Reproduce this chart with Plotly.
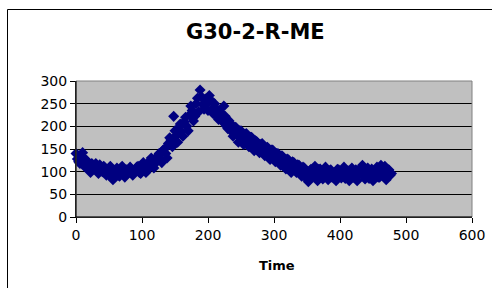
import plotly.graph_objects as go

title_text = "G30-2-R-ME"
x_title = "Time"

time_a = list(range(0, 480, 4))
values_a = [140, 122, 135, 115, 125, 108, 118, 112, 104, 115,
            100, 108, 95, 112, 82, 100, 92, 108, 95, 104,
            98, 106, 100, 110, 98, 112, 105, 118, 110, 125,
            118, 135, 128, 148, 140, 162, 170, 222, 180, 198,
            188, 210, 200, 225, 235, 222, 262, 280, 248, 260,
            235, 258, 228, 240, 215, 228, 245, 200, 212, 188,
            198, 182, 190, 175, 182, 170, 176, 160, 168, 155,
            160, 148, 152, 140, 148, 135, 140, 128, 135, 120,
            128, 112, 122, 108, 115, 100, 110, 92, 78, 105,
            98, 88, 105, 95, 100, 90, 102, 88, 98, 105,
            92, 100, 85, 102, 95, 88, 104, 92, 108, 90,
            100, 85, 106, 95, 110, 88, 102, 112, 95, 92]

time_b = list(range(2, 480, 4))
values_b = [128, 118, 142, 110, 120, 98, 108, 118, 96, 110,
            112, 92, 105, 88, 102, 108, 90, 112, 88, 96,
            110, 92, 104, 112, 96, 120, 98, 112, 130, 108,
            126, 140, 120, 150, 130, 175, 155, 190, 165, 205,
            178, 220, 190, 245, 212, 250, 232, 265, 238, 250,
            268, 238, 250, 222, 232, 210, 222, 195, 205, 178,
            198, 165, 190, 160, 184, 155, 176, 146, 166, 142,
            162, 135, 154, 127, 148, 122, 140, 114, 132, 106,
            126, 98, 120, 98, 114, 90, 108, 84, 102, 90,
            112, 80, 106, 84, 110, 82, 104, 92, 80, 104,
            86, 110, 90, 80, 108, 94, 80, 104, 114, 84,
            108, 92, 80, 104, 88, 114, 90, 82, 104, 96]

x_ticks = [0, 100, 200, 300, 400, 500, 600]
y_ticks = [0, 50, 100, 150, 200, 250, 300]

W, H = 492, 288
L, R, T, B = 76, 20, 81, 71
pw, ph = W - L - R, H - T - B

def px_x(p):
    return (p - L) / pw

def px_y(p):
    return (H - B - p) / ph

time = time_a + time_b
values = values_a + values_b

fig = go.Figure()
fig.add_trace(go.Scatter(
    x=time, y=values, mode="markers",
    marker=dict(symbol="diamond", size=8.5, color="#000080", line=dict(width=0)),
    showlegend=False, cliponaxis=False, hoverinfo="skip",
))

font = dict(family="Verdana, DejaVu Sans, sans-serif", color="black")

fig.update_layout(
    width=W, height=H,
    margin=dict(l=L, r=R, t=T, b=B, autoexpand=False),
    paper_bgcolor="white",
    plot_bgcolor="#C0C0C0",
    font=dict(size=14, **font),
    title=dict(text="<b>" + title_text + "</b>", x=186 / W, xanchor="left",
               y=1 - 32 / H, yanchor="middle", automargin=False,
               font=dict(size=21, **font)),
    xaxis=dict(range=[0, 600], tickvals=x_ticks, ticktext=[str(v) for v in x_ticks],
               showgrid=False, zeroline=False, showline=True, linecolor="black",
               linewidth=1, ticks="outside", ticklen=5, tickcolor="black",
               automargin=False, tickfont=dict(size=14, **font)),
    yaxis=dict(range=[0, 300], tickvals=y_ticks, ticktext=[str(v) for v in y_ticks],
               showgrid=True, gridcolor="black", gridwidth=1, zeroline=False,
               showline=True, linecolor="black", linewidth=1, ticks="outside",
               ticklen=5, tickcolor="black", automargin=False,
               tickfont=dict(size=14, **font)),
    annotations=[dict(text="<b>" + x_title + "</b>", xref="paper", yref="paper",
                      x=px_x(257), y=px_y(265), xanchor="left", yanchor="middle",
                      showarrow=False, font=dict(size=13, **font))],
    shapes=[
        dict(type="rect", xref="paper", yref="paper", x0=0, x1=1, y0=0, y1=1,
             line=dict(color="#808080", width=1), layer="above"),
        dict(type="line", xref="paper", yref="paper", x0=0, x1=0, y0=0, y1=1,
             line=dict(color="black", width=1), layer="above"),
        dict(type="line", xref="paper", yref="paper", x0=0, x1=1, y0=0, y1=0,
             line=dict(color="black", width=1), layer="above"),
        dict(type="rect", xref="paper", yref="paper",
             x0=px_x(7.5), x1=px_x(500), y0=px_y(9.5), y1=px_y(300),
             line=dict(color="black", width=1), layer="below"),
    ],
)

fig.write_html(
    "out.html",
    config={"displayModeBar": False, "staticPlot": True},
    post_script="document.body.style.margin='0';document.body.style.overflow='hidden';",
)
